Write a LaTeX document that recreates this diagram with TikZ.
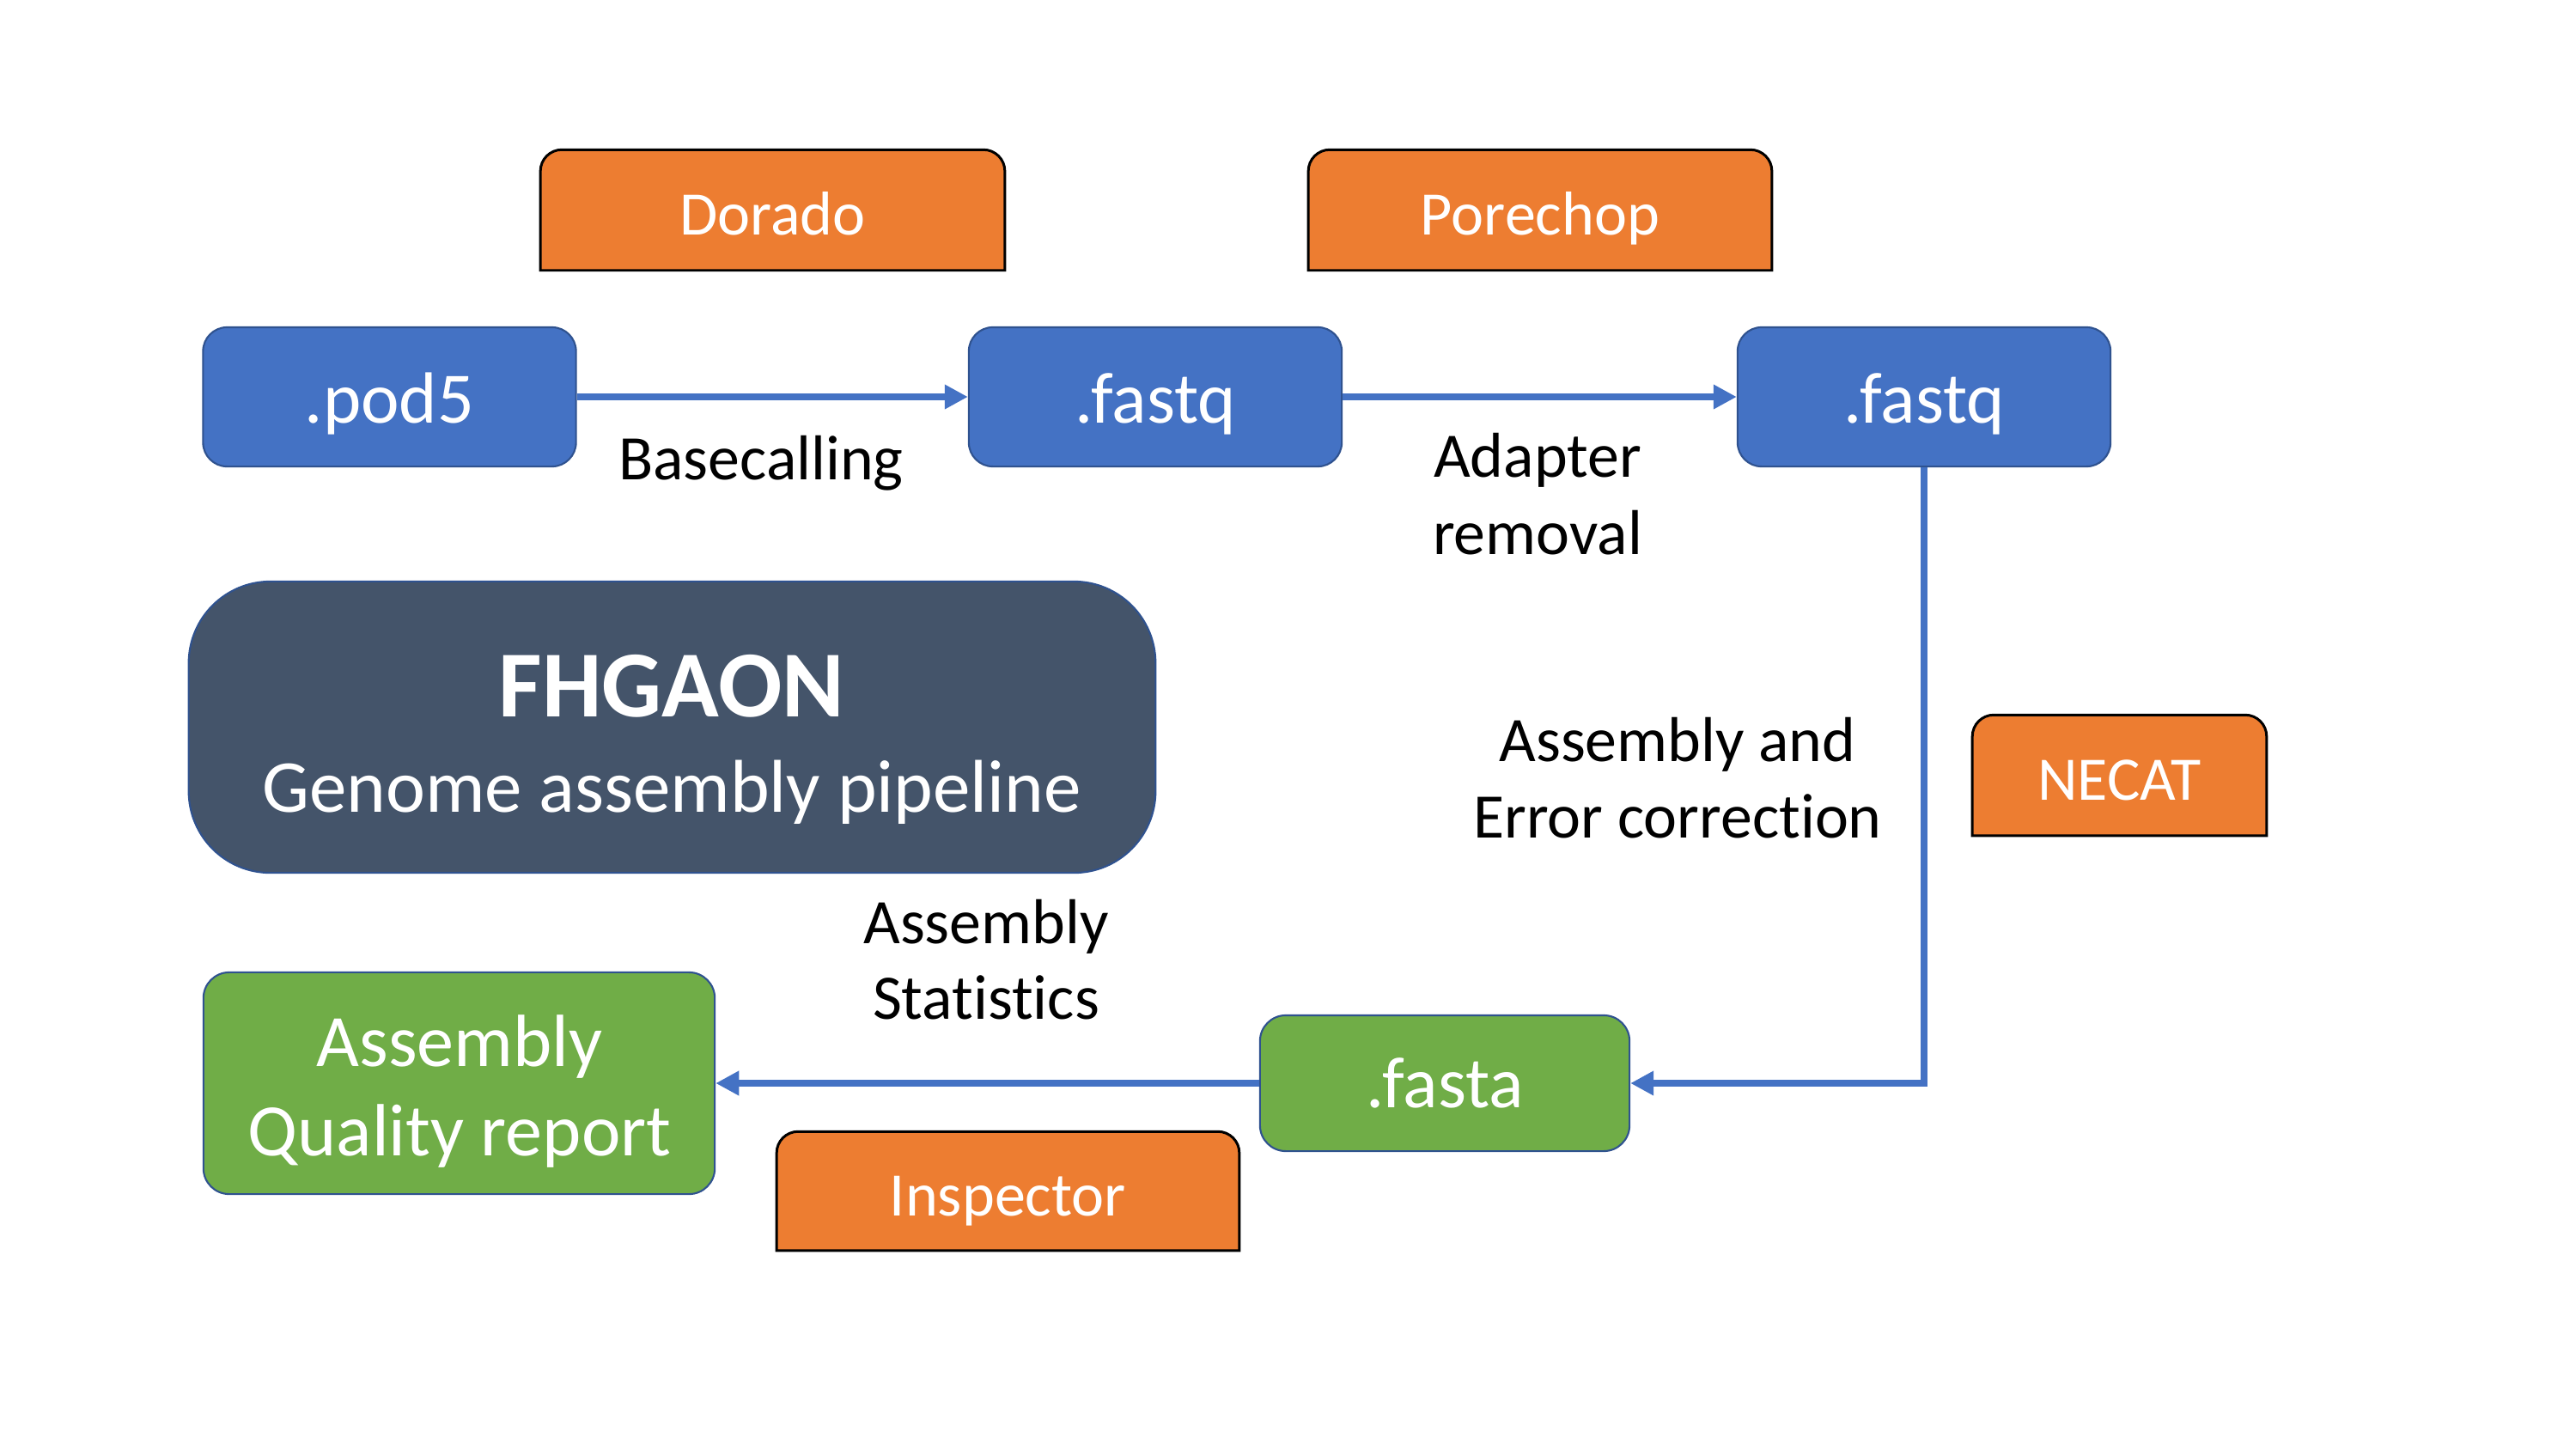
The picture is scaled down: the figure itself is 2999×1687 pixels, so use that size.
\documentclass[tikz,border=0pt]{standalone}
\usepackage{fontspec}
\setmainfont{Carlito}[Ligatures={NoCommon}]
\usetikzlibrary{arrows.meta,backgrounds}
\definecolor{cblue}{HTML}{4472C4}
\definecolor{cblueline}{HTML}{2F528F}
\definecolor{corange}{HTML}{ED7D31}
\definecolor{cgreen}{HTML}{70AD47}
\definecolor{cdark}{HTML}{44546A}
\begin{document}
\begin{tikzpicture}[x=0.01cm,y=-0.01cm,
  bluebox/.style={draw=cblueline, line width=0.6pt, fill=cblue, rounded corners=0.28cm, text=white,
    font=\fontsize{24}{29}\selectfont, minimum width=4.34cm, minimum height=1.62cm, inner sep=0pt,
    text height=0.6cm, text depth=0pt},
  greenbox/.style={draw=cblueline, line width=0.6pt, fill=cgreen, rounded corners=0.3cm, text=white,
    font=\fontsize{24}{29}\selectfont, inner sep=0pt, text depth=0pt},
  toolbox/.style={inner sep=0pt, text=white, font=\fontsize{20.5}{25}\selectfont,
    minimum height=1.39cm, text height=0.57cm, text depth=0pt},
  toolshape/.style={draw=black, line width=0.85pt, fill=corange},
  lbl/.style={inner sep=0pt, anchor=base, font=\fontsize{21}{25}\selectfont},
  whitetxt/.style={inner sep=0pt, anchor=base, text=white},
  conn/.style={draw=cblue, line width=0.08cm, -{Triangle[length=0.27cm,width=0.27cm]}}
]
\useasboundingbox (0,0) rectangle (2999,1687);

% file nodes
\node[bluebox] (pod5) at (453.5,462) {.pod5};
\node[bluebox] (fastq1) at (1345,462) {.fastq};
\node[bluebox] (fastq2) at (2240,462) {.fastq};
\node[greenbox, minimum width=4.30cm, minimum height=1.58cm, text height=0.56cm] (fasta) at (1682,1261) {.fasta};
\node[greenbox, minimum width=5.95cm, minimum height=2.58cm] (report) at (534.5,1261) {};
\node[whitetxt, font=\fontsize{24.5}{29}\selectfont] (report1) at (535,1241) {Assembly};
\node[whitetxt, font=\fontsize{24.5}{29}\selectfont] (report2) at (535,1345) {Quality report};

% title
\node[draw=cblueline, line width=0.6pt, fill=cdark, rounded corners=0.95cm,
      minimum width=11.25cm, minimum height=3.39cm, inner sep=0pt] (title) at (782.5,846.5) {};
\node[whitetxt, font=\fontsize{31.3}{36}\selectfont\bfseries] (title1) at (782,834) {FHGAON};
\node[whitetxt, font=\fontsize{24.75}{30}\selectfont] (title2) at (782,945) {Genome assembly pipeline};

% tools
\node[toolbox, minimum width=5.39cm] (dorado) at (899.5,244.5) {Dorado};
\node[toolbox, minimum width=5.38cm] (porechop) at (1793,244.5) {Porechop};
\node[toolbox, minimum width=3.41cm] (necat) at (2467.5,902.5) {NECAT};
\node[toolbox, minimum width=5.37cm, minimum height=1.37cm] (inspector) at (1173.5,1386.5) {Inspector};
\begin{scope}[on background layer]
\foreach \n in {dorado,porechop,necat,inspector}{
  \draw[toolshape] (\n.south west) [rounded corners=0.25cm] -- (\n.north west) -- (\n.north east) [sharp corners] -- (\n.south east) -- cycle;
}
\end{scope}

% step labels
\node[lbl] (basecalling) at (886,558) {Basecalling};
\node[lbl] (adapter1) at (1790,555) {Adapter};
\node[lbl] (adapter2) at (1790,645) {removal};
\node[lbl] (asm1) at (1953,886) {Assembly and};
\node[lbl] (asm2) at (1953,975) {Error correction};
\node[lbl] (stat1) at (1148,1098) {Assembly};
\node[lbl] (stat2) at (1148,1186) {Statistics};

% connectors
\draw[conn] (pod5) -- (fastq1);
\draw[conn] (fastq1) -- (fastq2);
\draw[conn] (fastq2.south) |- (fasta.east);
\draw[conn] (fasta) -- (report);
\end{tikzpicture}
\end{document}
